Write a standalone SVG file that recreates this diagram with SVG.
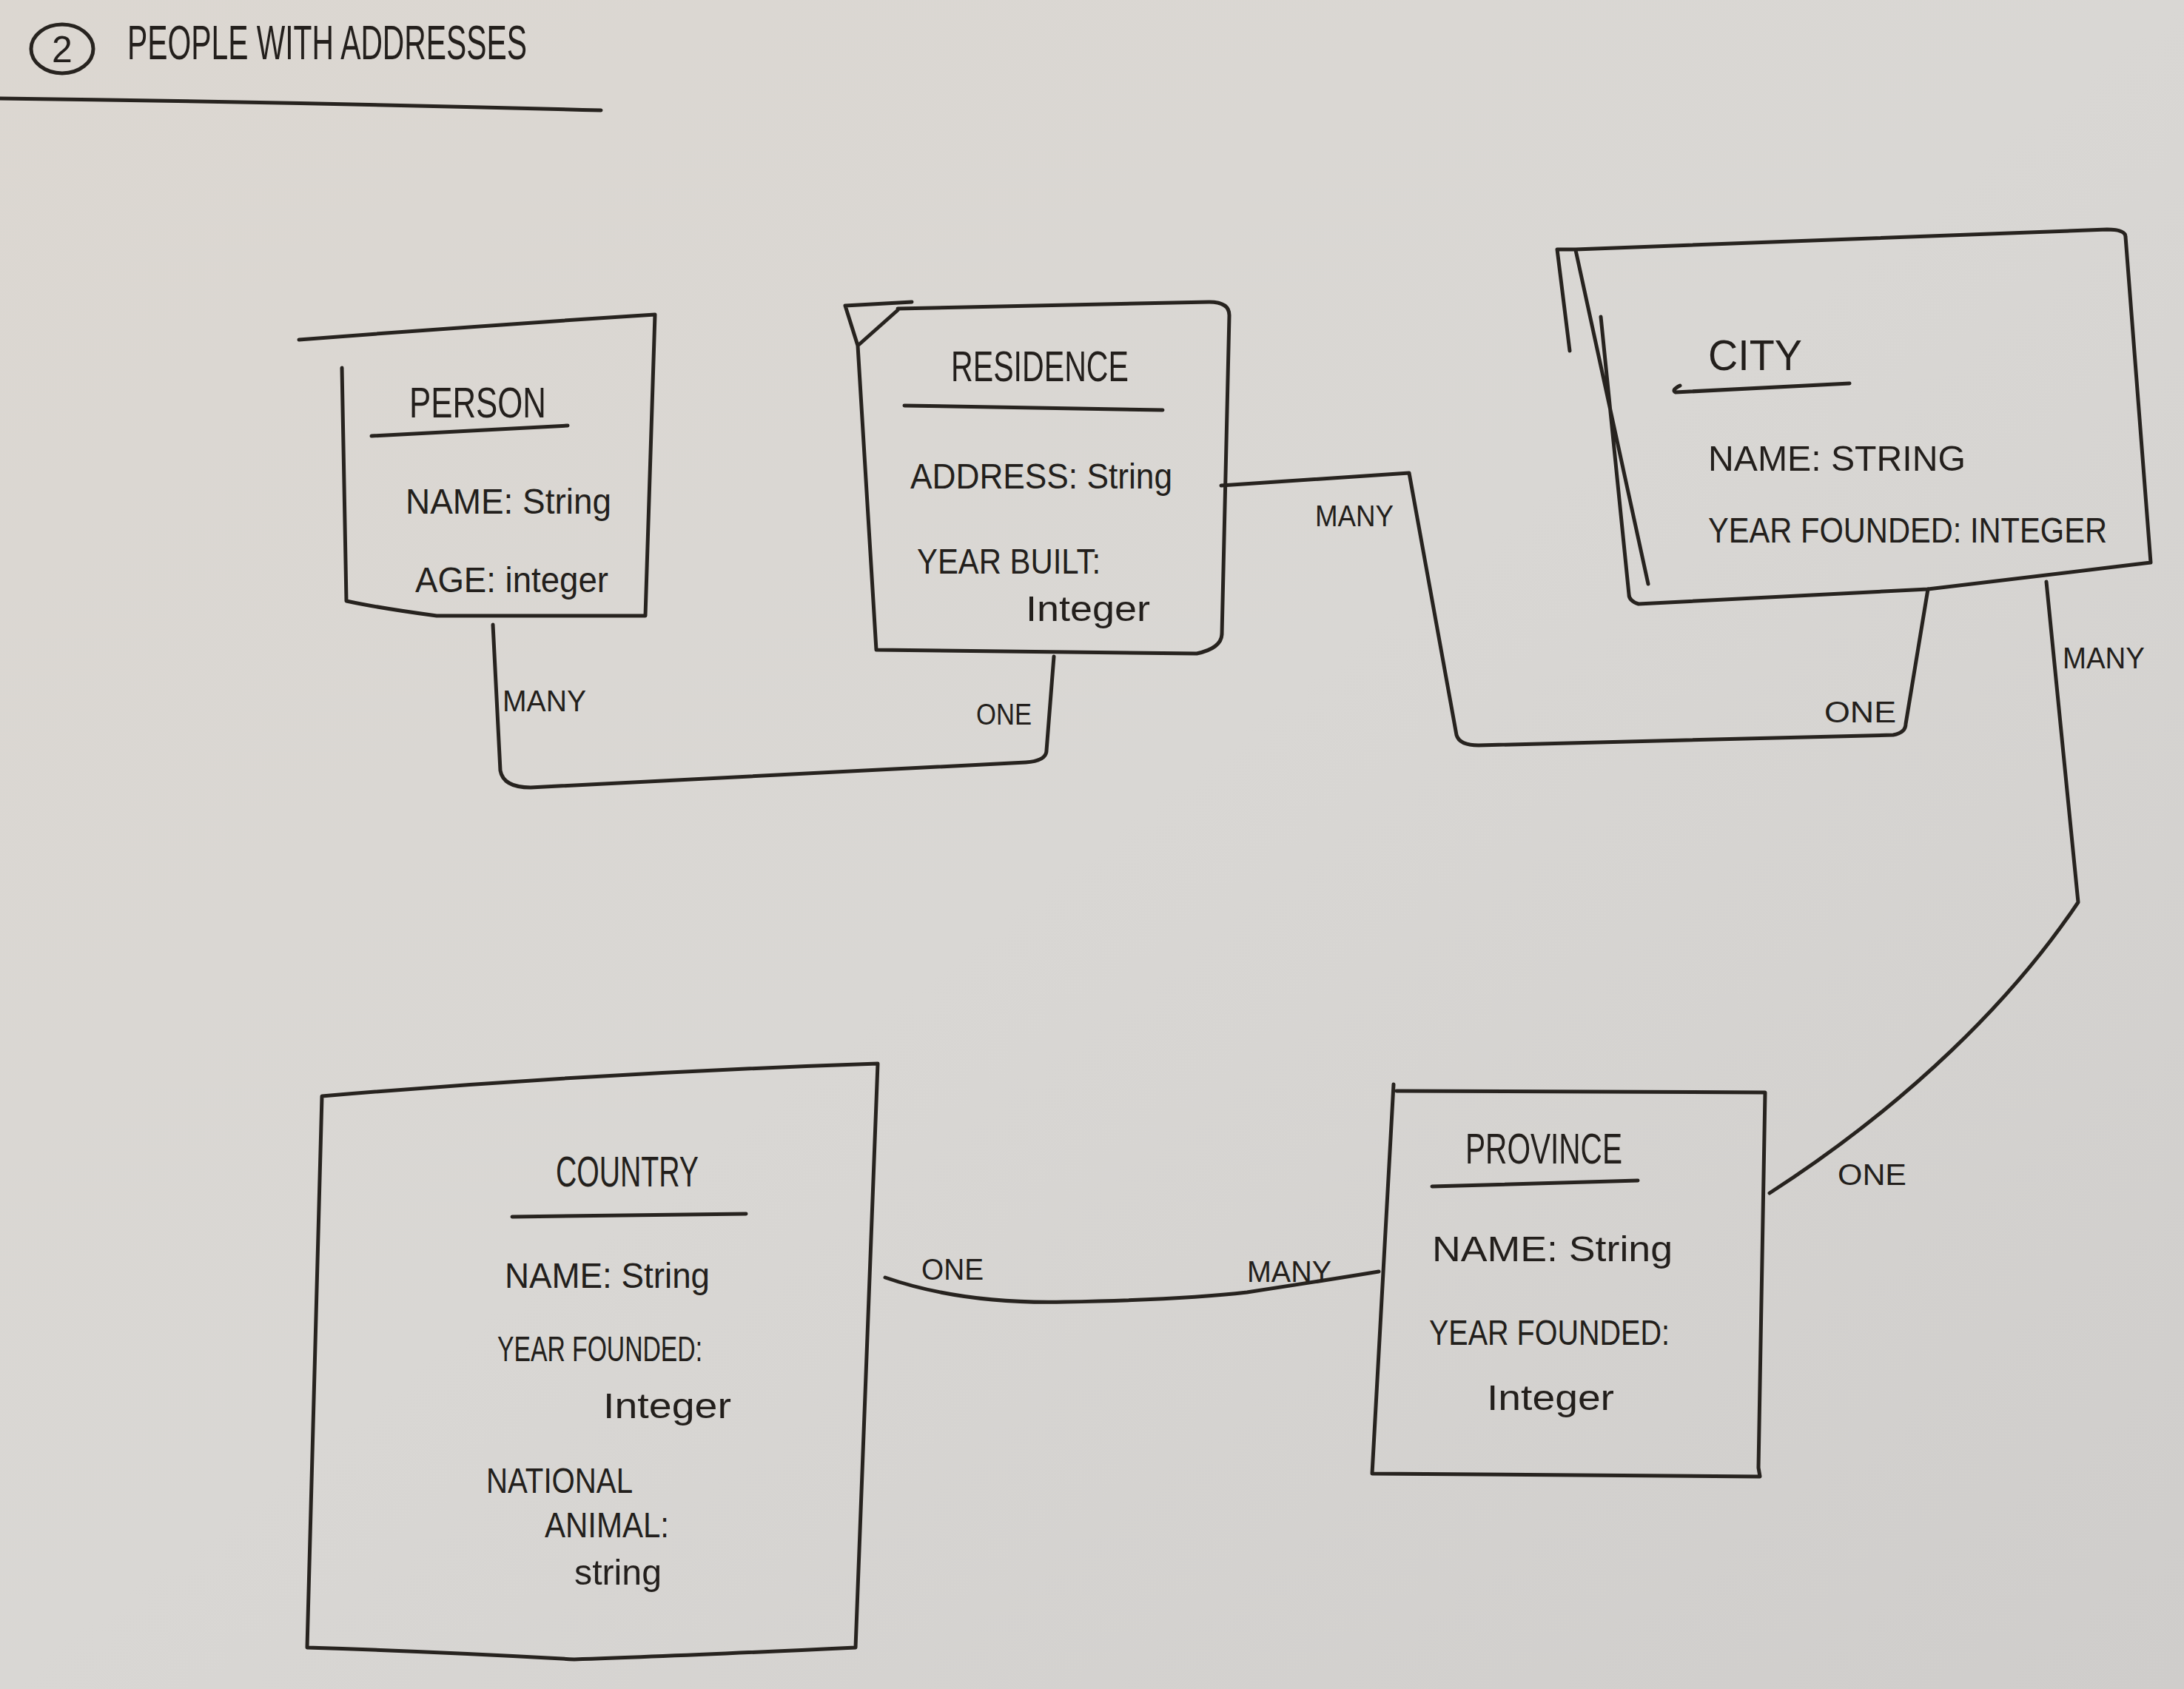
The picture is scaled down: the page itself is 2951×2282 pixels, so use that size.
<svg xmlns="http://www.w3.org/2000/svg" width="2951" height="2282" viewBox="0 0 2951 2282">
<style>
.ln{fill:none;stroke:#27231f;stroke-width:5;stroke-linecap:round;stroke-linejoin:round}
.t{font-family:"Liberation Sans","DejaVu Sans",sans-serif;fill:#231f1c}
.h{font-size:58px}
.a{font-size:48px}
.l{font-size:40px}
</style>
<defs>
<linearGradient id="paper" x1="0" y1="0" x2="1" y2="1">
<stop offset="0" stop-color="#dcd7d1"/>
<stop offset="0.5" stop-color="#d9d7d4"/>
<stop offset="1" stop-color="#cfcdcb"/>
</linearGradient>
</defs>
<rect x="0" y="0" width="2951" height="2282" fill="url(#paper)"/>

<g id="title">
<ellipse class="ln" cx="84" cy="66" rx="42" ry="33"/>
<text class="t" x="84" y="84" font-size="50" text-anchor="middle">2</text>
<text class="t" x="172" y="80" font-size="64" textLength="540" lengthAdjust="spacingAndGlyphs">PEOPLE WITH ADDRESSES</text>
<path class="ln" d="M0 133 Q400 138 812 149"/>
</g>

<g id="connectors">
<path class="ln" d="M666 844 L676 1041 Q680 1064 717 1064 L1386 1030 Q1414 1028 1414 1014 L1424 887"/>
<path class="ln" d="M1650 656 L1904 639 L1968 993 Q1972 1007 1998 1007 L2558 993 Q2575 990 2575 978 L2605 796"/>
<path class="ln" d="M2765 786 L2808 1219 C2720 1350 2580 1490 2391 1612"/>
<path class="ln" d="M1196 1726 Q1300 1762 1438 1759 Q1600 1756 1685 1746 Q1790 1730 1863 1718"/>
<text class="t l" x="679" y="961" textLength="113" lengthAdjust="spacingAndGlyphs">MANY</text>
<text class="t l" x="1319" y="979" textLength="75" lengthAdjust="spacingAndGlyphs">ONE</text>
<text class="t l" x="1777" y="711" textLength="106" lengthAdjust="spacingAndGlyphs">MANY</text>
<text class="t l" x="2465" y="976" textLength="97" lengthAdjust="spacingAndGlyphs">ONE</text>
<text class="t l" x="2787" y="903" textLength="111" lengthAdjust="spacingAndGlyphs">MANY</text>
<text class="t l" x="2483" y="1601" textLength="93" lengthAdjust="spacingAndGlyphs">ONE</text>
<text class="t l" x="1245" y="1729" textLength="84" lengthAdjust="spacingAndGlyphs">ONE</text>
<text class="t l" x="1685" y="1732" textLength="114" lengthAdjust="spacingAndGlyphs">MANY</text>
</g>

<g id="person">
<path class="ln" d="M404 459 Q650 440 885 425 L872 832 L590 832 Q515 822 468 812 L462 497"/>
<text class="t h" x="553" y="564" textLength="185" lengthAdjust="spacingAndGlyphs">PERSON</text>
<path class="ln" d="M502 589 L767 575"/>
<text class="t a" x="548" y="694" textLength="278" lengthAdjust="spacingAndGlyphs">NAME: String</text>
<text class="t a" x="561" y="800" textLength="261" lengthAdjust="spacingAndGlyphs">AGE: integer</text>
</g>

<g id="residence">
<path class="ln" d="M1142 413 L1232 408 M1142 413 L1159 467 L1213 419 M1213 417 L1634 408 Q1661 408 1661 426 L1651 857 Q1650 876 1617 883 L1184 878 L1159 467"/>
<text class="t h" x="1285" y="515" textLength="240" lengthAdjust="spacingAndGlyphs">RESIDENCE</text>
<path class="ln" d="M1222 548 L1571 554"/>
<text class="t a" x="1230" y="660" textLength="354" lengthAdjust="spacingAndGlyphs">ADDRESS: String</text>
<text class="t a" x="1239" y="775" textLength="248" lengthAdjust="spacingAndGlyphs">YEAR BUILT:</text>
<text class="t a" x="1386" y="839" textLength="168" lengthAdjust="spacingAndGlyphs">Integer</text>
</g>

<g id="city">
<path class="ln" d="M2104 337 L2129 337 L2847 310 Q2872 310 2872 320 L2906 760 L2605 796 L2214 816 Q2201 812 2201 803 L2163 428 M2129 338 L2227 789 M2104 337 L2121 474"/>
<text class="t h" x="2308" y="500" textLength="127" lengthAdjust="spacingAndGlyphs">CITY</text>
<path class="ln" d="M2270 521 Q2258 527 2264 530 L2499 518"/>
<text class="t a" x="2308" y="636" textLength="348" lengthAdjust="spacingAndGlyphs">NAME: STRING</text>
<text class="t a" x="2308" y="733" textLength="539" lengthAdjust="spacingAndGlyphs">YEAR FOUNDED: INTEGER</text>
</g>

<g id="country">
<path class="ln" d="M435 1481 Q800 1450 1186 1437 L1156 2226 Q900 2238 776 2242 Q600 2232 415 2226 Z"/>
<text class="t h" x="751" y="1603" textLength="193" lengthAdjust="spacingAndGlyphs">COUNTRY</text>
<path class="ln" d="M692 1644 L1008 1640"/>
<text class="t a" x="682" y="1740" textLength="277" lengthAdjust="spacingAndGlyphs">NAME: String</text>
<text class="t a" x="672" y="1839" textLength="277" lengthAdjust="spacingAndGlyphs">YEAR FOUNDED:</text>
<text class="t a" x="815" y="1916" textLength="173" lengthAdjust="spacingAndGlyphs">Integer</text>
<text class="t a" x="657" y="2017" textLength="198" lengthAdjust="spacingAndGlyphs">NATIONAL</text>
<text class="t a" x="736" y="2077" textLength="168" lengthAdjust="spacingAndGlyphs">ANIMAL:</text>
<text class="t a" x="776" y="2141" textLength="118" lengthAdjust="spacingAndGlyphs">string</text>
</g>

<g id="province">
<path class="ln" d="M1883 1465 L1854 1991 L2378 1995 L2376 1983 L2385 1476 L1887 1474"/>
<text class="t h" x="1980" y="1572" textLength="212" lengthAdjust="spacingAndGlyphs">PROVINCE</text>
<path class="ln" d="M1935 1603 L2213 1595"/>
<text class="t a" x="1935" y="1704" textLength="325" lengthAdjust="spacingAndGlyphs">NAME: String</text>
<text class="t a" x="1931" y="1817" textLength="325" lengthAdjust="spacingAndGlyphs">YEAR FOUNDED:</text>
<text class="t a" x="2009" y="1905" textLength="172" lengthAdjust="spacingAndGlyphs">Integer</text>
</g>
</svg>
